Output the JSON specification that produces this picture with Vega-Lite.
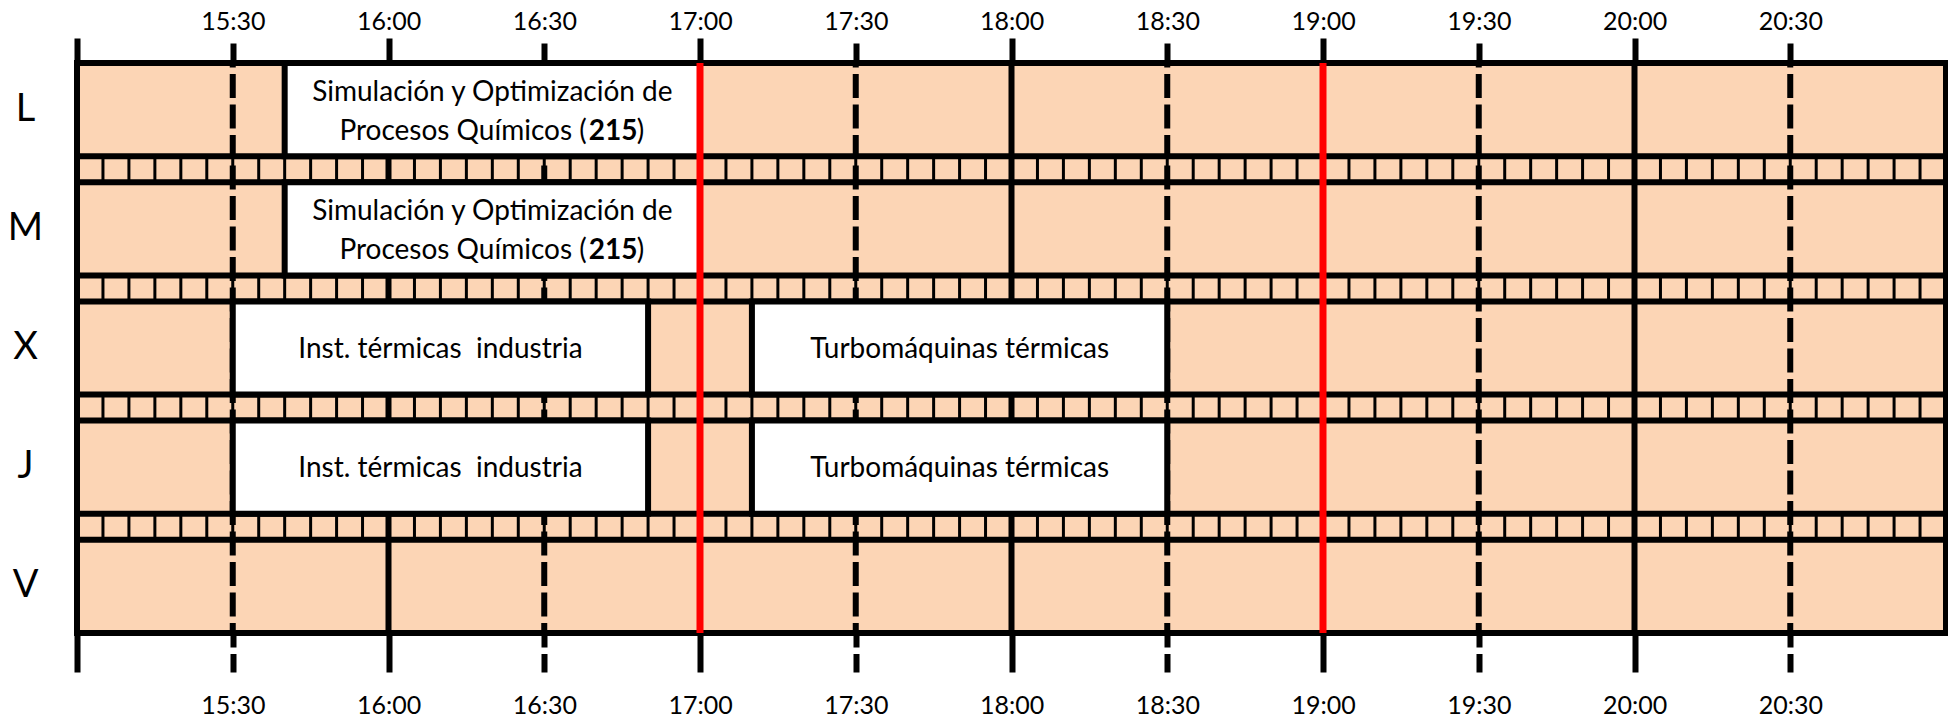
{
  "$schema": "https://vega.github.io/schema/vega-lite/v6.json",
  "width": 1869,
  "height": 570,
  "autosize": {"type": "none"},
  "padding": {"left": 77, "top": 63, "right": 2, "bottom": 87},
  "background": "white",
  "config": {
    "view": {"stroke": null, "fill": "#FCD5B5"},
    "font": "Lato",
    "text": {"font": "Lato", "color": "black"},
    "axisY": {
      "orient": "left", "ticks": false, "tickSize": 0, "domain": false, "grid": false, "title": null,
      "labelFontSize": 38, "labelFont": "Lato", "labelColor": "black",
      "labelAlign": "center", "labelBaseline": "middle", "labelPadding": 52
    }
  },
  "datasets": {
    "events": [
      {"day": "L", "start": "15:40", "end": "17:00", "line1": "Simulación y Optimización de", "line2": "Procesos Químicos (", "code": "215"},
      {"day": "M", "start": "15:40", "end": "17:00", "line1": "Simulación y Optimización de", "line2": "Procesos Químicos (", "code": "215"},
      {"day": "X", "start": "15:30", "end": "16:50", "line1": "Inst. térmicas\u00a0 industria"},
      {"day": "X", "start": "17:10", "end": "18:30", "line1": "Turbomáquinas térmicas"},
      {"day": "J", "start": "15:30", "end": "16:50", "line1": "Inst. térmicas\u00a0 industria"},
      {"day": "J", "start": "17:10", "end": "18:30", "line1": "Turbomáquinas térmicas"}
    ]
  },
  "resolve": {"axis": {"x": "independent"}},
  "layer": [
    {
      "data": {
        "values": [
          {"t": "15:00"}, {"t": "15:05"}, {"t": "15:10"}, {"t": "15:15"}, {"t": "15:20"}, {"t": "15:25"},
          {"t": "15:30"}, {"t": "15:35"}, {"t": "15:40"}, {"t": "15:45"}, {"t": "15:50"}, {"t": "15:55"},
          {"t": "16:00"}, {"t": "16:05"}, {"t": "16:10"}, {"t": "16:15"}, {"t": "16:20"}, {"t": "16:25"},
          {"t": "16:30"}, {"t": "16:35"}, {"t": "16:40"}, {"t": "16:45"}, {"t": "16:50"}, {"t": "16:55"},
          {"t": "17:00"}, {"t": "17:05"}, {"t": "17:10"}, {"t": "17:15"}, {"t": "17:20"}, {"t": "17:25"},
          {"t": "17:30"}, {"t": "17:35"}, {"t": "17:40"}, {"t": "17:45"}, {"t": "17:50"}, {"t": "17:55"},
          {"t": "18:00"}, {"t": "18:05"}, {"t": "18:10"}, {"t": "18:15"}, {"t": "18:20"}, {"t": "18:25"},
          {"t": "18:30"}, {"t": "18:35"}, {"t": "18:40"}, {"t": "18:45"}, {"t": "18:50"}, {"t": "18:55"},
          {"t": "19:00"}, {"t": "19:05"}, {"t": "19:10"}, {"t": "19:15"}, {"t": "19:20"}, {"t": "19:25"},
          {"t": "19:30"}, {"t": "19:35"}, {"t": "19:40"}, {"t": "19:45"}, {"t": "19:50"}, {"t": "19:55"},
          {"t": "20:00"}, {"t": "20:05"}, {"t": "20:10"}, {"t": "20:15"}, {"t": "20:20"}, {"t": "20:25"},
          {"t": "20:30"}, {"t": "20:35"}, {"t": "20:40"}, {"t": "20:45"}, {"t": "20:50"}, {"t": "20:55"},
          {"t": "21:00"}
        ],
        "format": {"parse": {"t": "utc:'%H:%M'"}}
      },
      "mark": {"type": "rule", "color": "black", "strokeWidth": 3},
      "encoding": {
        "x": {
          "field": "t", "type": "temporal",
          "scale": {"type": "utc", "nice": false, "domain": [
            {"year": 1900, "month": 1, "date": 1, "hours": 15, "minutes": 0, "utc": true},
            {"year": 1900, "month": 1, "date": 1, "hours": 21, "minutes": 0, "utc": true}]},
          "axis": {
            "orient": "top",
            "values": [
              {"year": 1900, "month": 1, "date": 1, "hours": 15, "minutes": 0, "utc": true},
              {"year": 1900, "month": 1, "date": 1, "hours": 15, "minutes": 30, "utc": true},
              {"year": 1900, "month": 1, "date": 1, "hours": 16, "minutes": 0, "utc": true},
              {"year": 1900, "month": 1, "date": 1, "hours": 16, "minutes": 30, "utc": true},
              {"year": 1900, "month": 1, "date": 1, "hours": 17, "minutes": 0, "utc": true},
              {"year": 1900, "month": 1, "date": 1, "hours": 17, "minutes": 30, "utc": true},
              {"year": 1900, "month": 1, "date": 1, "hours": 18, "minutes": 0, "utc": true},
              {"year": 1900, "month": 1, "date": 1, "hours": 18, "minutes": 30, "utc": true},
              {"year": 1900, "month": 1, "date": 1, "hours": 19, "minutes": 0, "utc": true},
              {"year": 1900, "month": 1, "date": 1, "hours": 19, "minutes": 30, "utc": true},
              {"year": 1900, "month": 1, "date": 1, "hours": 20, "minutes": 0, "utc": true},
              {"year": 1900, "month": 1, "date": 1, "hours": 20, "minutes": 30, "utc": true}
            ],
            "labelExpr": "utchours(datum.value) == 15 && utcminutes(datum.value) == 0 ? '' : utcFormat(datum.value, '%H:%M')",
            "domain": false, "grid": false, "title": null,
            "tickSize": 25, "tickWidth": 6, "tickColor": "black",
            "tickDash": {"condition": {"test": "utcminutes(datum.value) == 30", "value": [20, 10]}, "value": [1, 0]},
            "labelFontSize": 25, "labelFont": "Lato", "labelColor": "black",
            "labelPadding": 8.7, "labelBaseline": "alphabetic", "labelOverlap": false, "labelBound": false, "labelFlush": false
          }
        }
      }
    },
    {
      "data": {"values": [{"day": "L"}, {"day": "M"}, {"day": "X"}, {"day": "J"}, {"day": "V"}]},
      "mark": {"type": "rect", "fill": "#FCD5B5", "stroke": "black", "strokeWidth": 6},
      "encoding": {
        "y": {
          "field": "day", "type": "nominal",
          "scale": {"domain": ["L", "M", "X", "J", "V"], "paddingInner": 0.218, "paddingOuter": 0}
        },
        "x": {"value": 0},
        "x2": {"value": "width"}
      }
    },
    {
      "data": {
        "values": [
          {"t": "15:00", "kind": "hour"}, {"t": "15:30", "kind": "half"},
          {"t": "16:00", "kind": "hour"}, {"t": "16:30", "kind": "half"},
          {"t": "17:00", "kind": "hour"}, {"t": "17:30", "kind": "half"},
          {"t": "18:00", "kind": "hour"}, {"t": "18:30", "kind": "half"},
          {"t": "19:00", "kind": "hour"}, {"t": "19:30", "kind": "half"},
          {"t": "20:00", "kind": "hour"}, {"t": "20:30", "kind": "half"},
          {"t": "21:00", "kind": "hour"}
        ],
        "format": {"parse": {"t": "utc:'%H:%M'"}}
      },
      "mark": {"type": "rule", "color": "black", "strokeWidth": 6, "strokeDashOffset": 19.5},
      "encoding": {
        "x": {
          "field": "t", "type": "temporal",
          "scale": {"type": "utc", "nice": false, "domain": [
            {"year": 1900, "month": 1, "date": 1, "hours": 15, "minutes": 0, "utc": true},
            {"year": 1900, "month": 1, "date": 1, "hours": 21, "minutes": 0, "utc": true}]},
          "axis": {
            "orient": "bottom",
            "values": [
              {"year": 1900, "month": 1, "date": 1, "hours": 15, "minutes": 0, "utc": true},
              {"year": 1900, "month": 1, "date": 1, "hours": 15, "minutes": 30, "utc": true},
              {"year": 1900, "month": 1, "date": 1, "hours": 16, "minutes": 0, "utc": true},
              {"year": 1900, "month": 1, "date": 1, "hours": 16, "minutes": 30, "utc": true},
              {"year": 1900, "month": 1, "date": 1, "hours": 17, "minutes": 0, "utc": true},
              {"year": 1900, "month": 1, "date": 1, "hours": 17, "minutes": 30, "utc": true},
              {"year": 1900, "month": 1, "date": 1, "hours": 18, "minutes": 0, "utc": true},
              {"year": 1900, "month": 1, "date": 1, "hours": 18, "minutes": 30, "utc": true},
              {"year": 1900, "month": 1, "date": 1, "hours": 19, "minutes": 0, "utc": true},
              {"year": 1900, "month": 1, "date": 1, "hours": 19, "minutes": 30, "utc": true},
              {"year": 1900, "month": 1, "date": 1, "hours": 20, "minutes": 0, "utc": true},
              {"year": 1900, "month": 1, "date": 1, "hours": 20, "minutes": 30, "utc": true}
            ],
            "labelExpr": "utchours(datum.value) == 15 && utcminutes(datum.value) == 0 ? '' : utcFormat(datum.value, '%H:%M')",
            "domain": false, "grid": false, "title": null,
            "tickSize": 39, "tickWidth": 6, "tickColor": "black",
            "tickDash": {"condition": {"test": "utcminutes(datum.value) == 30", "value": [14, 6.5, 30, 0]}, "value": [1, 0]},
            "labelFontSize": 25, "labelFont": "Lato", "labelColor": "black",
            "labelPadding": 41, "labelBaseline": "alphabetic", "labelOverlap": false, "labelBound": false, "labelFlush": false
          }
        },
        "strokeDash": {"field": "kind", "type": "nominal", "scale": {"domain": ["hour", "half"], "range": [[1, 0], [24, 6.5]]}, "legend": null}
      }
    },
    {
      "data": {"name": "events", "format": {"parse": {"start": "utc:'%H:%M'", "end": "utc:'%H:%M'"}}},
      "layer": [
        {
          "mark": {"type": "rect", "fill": "white", "stroke": "black", "strokeWidth": 6},
          "encoding": {
            "x": {"field": "start", "type": "temporal", "axis": null,
              "scale": {"type": "utc", "nice": false, "domain": [
                {"year": 1900, "month": 1, "date": 1, "hours": 15, "minutes": 0, "utc": true},
                {"year": 1900, "month": 1, "date": 1, "hours": 21, "minutes": 0, "utc": true}]}},
            "x2": {"field": "end"},
            "y": {"field": "day", "type": "nominal",
              "scale": {"domain": ["L", "M", "X", "J", "V"], "paddingInner": 0.218, "paddingOuter": 0}}
          }
        },
        {
          "transform": [{"filter": "datum.code == null"}],
          "mark": {"type": "text", "fontSize": 28, "baseline": "middle", "align": "center", "dx": 207.7, "dy": 2},
          "encoding": {
            "x": {"field": "start", "type": "temporal", "axis": null},
            "y": {"field": "day", "type": "nominal"},
            "text": {"field": "line1"}
          }
        },
        {
          "transform": [{"filter": "datum.code != null"}],
          "mark": {"type": "text", "fontSize": 28, "baseline": "alphabetic", "align": "center", "dx": 207.7, "dy": -9},
          "encoding": {
            "x": {"field": "start", "type": "temporal", "axis": null},
            "y": {"field": "day", "type": "nominal"},
            "text": {"field": "line1"}
          }
        },
        {
          "transform": [{"filter": "datum.code != null"}],
          "mark": {"type": "text", "fontSize": 28, "baseline": "alphabetic", "align": "right", "dx": 302, "dy": 30.4},
          "encoding": {
            "x": {"field": "start", "type": "temporal", "axis": null},
            "y": {"field": "day", "type": "nominal"},
            "text": {"field": "line2"}
          }
        },
        {
          "transform": [{"filter": "datum.code != null"}],
          "mark": {"type": "text", "fontSize": 28, "fontWeight": "bold", "baseline": "alphabetic", "align": "left", "dx": 304, "dy": 30.4},
          "encoding": {
            "x": {"field": "start", "type": "temporal", "axis": null},
            "y": {"field": "day", "type": "nominal"},
            "text": {"field": "code"}
          }
        },
        {
          "transform": [{"filter": "datum.code != null"}],
          "mark": {"type": "text", "fontSize": 28, "baseline": "alphabetic", "align": "left", "dx": 352, "dy": 30.4},
          "encoding": {
            "x": {"field": "start", "type": "temporal", "axis": null},
            "y": {"field": "day", "type": "nominal"},
            "text": {"value": ")"}
          }
        }
      ]
    },
    {
      "data": {"values": [{"t": "17:00"}, {"t": "19:00"}], "format": {"parse": {"t": "utc:'%H:%M'"}}},
      "mark": {"type": "rule", "color": "#FF0000", "strokeWidth": 7},
      "encoding": {
        "x": {"field": "t", "type": "temporal", "axis": null,
          "scale": {"type": "utc", "nice": false, "domain": [
            {"year": 1900, "month": 1, "date": 1, "hours": 15, "minutes": 0, "utc": true},
            {"year": 1900, "month": 1, "date": 1, "hours": 21, "minutes": 0, "utc": true}]}}
      }
    }
  ]
}
